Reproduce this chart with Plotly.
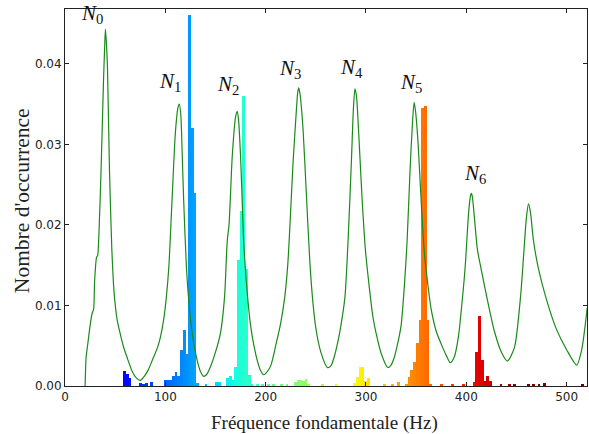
import numpy as np
import plotly.graph_objects as go

# ---- data ----
bin_centers = [59.3, 62.0, 64.7,
               75.5, 78.2, 81.0, 86.3,
               99.8, 102.5, 105.2, 108.0, 110.7, 113.4, 116.1, 118.8, 121.5, 124.2, 126.9, 129.6, 132.3,
               140.4, 151.2, 153.9,
               162.0, 164.7, 167.4, 170.1, 172.8, 175.5, 178.2, 180.9, 183.6, 186.3,
               191.7, 197.1, 202.5, 207.9, 216.0, 221.4,
               229.5, 232.2, 234.9, 237.6, 240.3, 243.0,
               256.5, 270.0,
               288.9, 291.6, 294.3, 297.0, 299.7, 302.4,
               318.6, 326.7, 332.1,
               340.2, 342.9, 345.6, 348.3, 351.0, 353.7, 356.4, 359.1, 361.8, 364.5,
               375.3, 386.1, 396.9,
               407.7, 410.4, 413.1, 415.8, 418.5, 421.2, 423.9,
               434.7, 442.8, 448.2, 461.7, 467.1, 472.5, 477.9, 515.7]
bin_heights = [0.0019, 0.0015, 0.0010,
               0.0004, 0.0003, 0.0004, 0.0005,
               0.0007, 0.0007, 0.0008, 0.0012, 0.0017, 0.0013, 0.0045, 0.0070, 0.0040, 0.0460, 0.0320, 0.0240, 0.0004,
               0.0003, 0.0005, 0.0005,
               0.0010, 0.0012, 0.0008, 0.0024, 0.0157, 0.0217, 0.0360, 0.0145, 0.0014, 0.0003,
               0.0002, 0.0003, 0.0003, 0.0002, 0.0003, 0.0002,
               0.0005, 0.0007, 0.0008, 0.0006, 0.0009, 0.0002,
               0.0003, 0.0002,
               0.0004, 0.0011, 0.0023, 0.0024, 0.0006, 0.0010,
               0.0002, 0.0002, 0.0005,
               0.0002, 0.0011, 0.0020, 0.0030, 0.0053, 0.0082, 0.0345, 0.0348, 0.0082, 0.0003,
               0.0002, 0.0002, 0.0002,
               0.0005, 0.0042, 0.0087, 0.0032, 0.0006, 0.0013, 0.0006,
               0.0002, 0.0002, 0.0002, 0.0002, 0.0002, 0.0002, 0.0004, 0.0002]

curve_hz = [20, 20.5, 21, 23, 25, 27, 28.5, 29.5, 31.5, 32.5, 34, 36, 38.3, 39.5, 40.3, 41.3, 42.3, 44.3,
            46.7, 49, 52, 55, 58, 62, 67, 71, 75, 79, 83, 88, 92, 95, 98.3, 101, 103.5, 106.7, 110,
            112.5, 114, 115.5, 116.7, 118.3, 121, 123.3, 126.7, 131.7, 135, 138.3, 141, 145, 150,
            155, 159, 161.7, 163.5, 166.7, 170, 171.7, 173, 175, 178.3, 181.7, 185, 188.3, 192, 195,
            198, 201, 205, 210, 215, 219, 222, 224, 227.3, 230.5, 232, 233, 234.5, 237.3, 240.7, 244,
            247, 250, 255, 261.5, 265, 268.3, 272, 275, 279, 282.5, 285.5, 287.5, 289, 290.5, 292.5,
            296, 299.5, 304, 307, 310, 315, 321.7, 325, 328.3, 332, 335, 338.3, 341, 344, 346.5, 348,
            349.5, 352, 355, 358, 361, 365, 370, 375, 380, 384, 388, 392, 396, 399, 402, 404, 405,
            406, 408, 411, 414, 421, 428, 435, 441, 448, 454, 457, 460, 462, 464, 467, 472, 480,
            490, 500, 510, 515, 520.5]
curve_val = [0.0, 0.0020, 0.0035, 0.0055, 0.0075, 0.0090, 0.0095, 0.0130, 0.0160, 0.0162, 0.0195, 0.0270,
             0.0376, 0.0420, 0.0443, 0.0425, 0.0397, 0.0270,
             0.0169, 0.0115, 0.0082, 0.0065, 0.0050, 0.0035, 0.0018, 0.0010, 0.0007, 0.0012, 0.0020,
             0.0035, 0.0047, 0.0060, 0.0082, 0.0110, 0.0148, 0.0231, 0.0314,
             0.0345, 0.0350, 0.0335, 0.0293, 0.0230, 0.0148, 0.0107, 0.0066, 0.0032, 0.0018, 0.0012,
             0.0014, 0.0024, 0.0042,
             0.0066, 0.0110, 0.0180, 0.0200, 0.0285, 0.0334, 0.0341, 0.0330, 0.0285, 0.0175, 0.0115,
             0.0075, 0.0050, 0.0030, 0.0019,
             0.0014, 0.0017, 0.0025, 0.0050, 0.0078, 0.0110, 0.0150, 0.0194, 0.0277, 0.0340, 0.0365,
             0.0370, 0.0360, 0.0318, 0.0235, 0.0155,
             0.0105, 0.0072, 0.0042, 0.0023, 0.0025, 0.0036, 0.0055, 0.0075, 0.0110, 0.0190, 0.0280,
             0.0345, 0.0369, 0.0360, 0.0320,
             0.0235, 0.0168, 0.0115, 0.0085, 0.0066, 0.0041, 0.0023, 0.0026, 0.0036, 0.0055, 0.0075,
             0.0125, 0.0180, 0.0270, 0.0330, 0.0352,
             0.0340, 0.0300, 0.0230, 0.0168, 0.0133, 0.0095, 0.0068, 0.0052, 0.0038, 0.0029, 0.0036,
             0.0060, 0.0107, 0.0150, 0.0210, 0.0235, 0.0239,
             0.0235, 0.0210, 0.0170, 0.0150, 0.0107, 0.0068, 0.0042, 0.0031, 0.0048, 0.0110, 0.0160,
             0.0210, 0.0226, 0.0215, 0.0180, 0.0145, 0.0107,
             0.0070, 0.0045, 0.0026, 0.0045, 0.0097]

label_text = ["N", "N", "N", "N", "N", "N", "N"]
label_idx = ["0", "1", "2", "3", "4", "5", "6"]
label_hz = [27, 105, 162, 224, 286, 345, 409]
label_val = [0.0462, 0.0378, 0.0374, 0.0393, 0.0395, 0.0376, 0.0263]

x_title = "Fréquence fondamentale (Hz)"
y_title = "Nombre d'occurrence"

# ---- matplotlib-like 'jet' colour mapping ----
def jet(v):
    v = min(max(v, 0.0), 1.0)
    r = np.interp(v, [0, 0.35, 0.66, 0.89, 1], [0, 0, 1, 1, 0.5])
    g = np.interp(v, [0, 0.125, 0.375, 0.64, 0.91, 1], [0, 0, 1, 1, 0, 0])
    b = np.interp(v, [0, 0.11, 0.34, 0.65, 1], [0.5, 1, 1, 0, 0])
    return "rgb(%d,%d,%d)" % (round(r * 255), round(g * 255), round(b * 255))

bar_colors = [jet(c / 452.0) for c in bin_centers]

fig = go.Figure()
fig.add_trace(go.Bar(x=bin_centers, y=bin_heights, width=2.7,
                     marker=dict(color=bar_colors, line=dict(width=0)),
                     showlegend=False, hoverinfo="x+y"))
fig.add_trace(go.Scatter(x=curve_hz, y=curve_val, mode="lines",
                         line=dict(color="#1a8a1a", width=1.2, shape="spline", smoothing=0.7),
                         showlegend=False))

serif = "Liberation Serif, DejaVu Serif, serif"
for t, i, xh, yv in zip(label_text, label_idx, label_hz, label_val):
    fig.add_annotation(x=xh, y=yv, xref="x", yref="y",
                       text="<i>%s</i><sub>%s</sub>" % (t, i),
                       showarrow=False, font=dict(family=serif, size=21, color="#111"))

fig.add_annotation(x=0.498, y=-0.098, xref="paper", yref="paper", text=x_title,
                   showarrow=False, font=dict(family=serif, size=19, color="#222"),
                   xanchor="center", yanchor="middle")
fig.add_annotation(x=-0.0824, y=0.493, xref="paper", yref="paper", text=y_title,
                   showarrow=False, textangle=-90, font=dict(family=serif, size=21.5, color="#222"),
                   xanchor="center", yanchor="middle")

axis_common = dict(showline=True, linecolor="#222", linewidth=1, mirror="allticks",
                   ticks="inside", ticklen=4, tickcolor="#222", showgrid=False, zeroline=False,
                   tickfont=dict(family="DejaVu Sans", size=12, color="#222"))
fig.update_xaxes(range=[0, 520.3], tickvals=[0, 100, 200, 300, 400, 500], **axis_common)
fig.update_yaxes(range=[0, 0.0468], tickvals=[0, 0.01, 0.02, 0.03, 0.04], tickformat=".2f",
                 **axis_common)

fig.update_layout(width=589, height=434, margin=dict(l=65, r=2, t=9, b=48),
                  paper_bgcolor="white", plot_bgcolor="white", bargap=0,
                  font=dict(family="DejaVu Sans"))

fig.write_html("out.html", config={"displayModeBar": False},
               post_script="document.body.style.margin='0';document.body.style.overflow='hidden';")
